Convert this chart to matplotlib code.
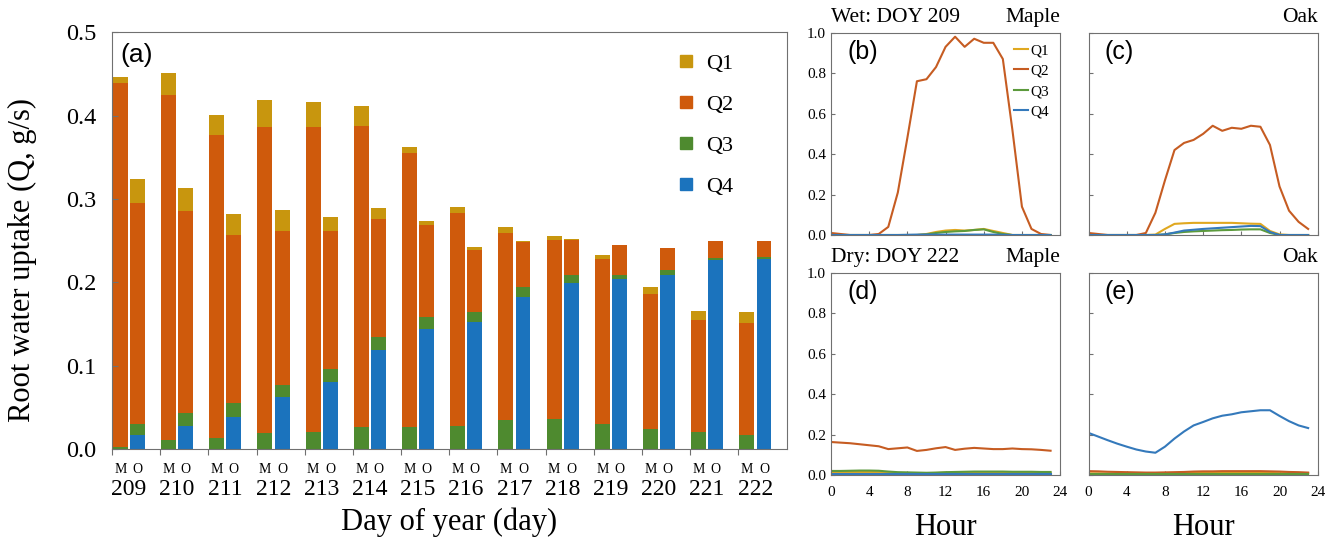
import numpy as np
import matplotlib.pyplot as plt
from matplotlib.lines import Line2D

plt.rcParams['font.family'] = ['Liberation Serif', 'DejaVu Serif']

days = ['209', '210', '211', '212', '213', '214', '215',
        '216', '217', '218', '219', '220', '221', '222']

# stacked components per day, M = maple, O = oak
m_q1 = [0.007, 0.026, 0.024, 0.033, 0.030, 0.024, 0.008,
        0.007, 0.008, 0.005, 0.005, 0.009, 0.011, 0.014]
m_q2 = [0.436, 0.414, 0.364, 0.367, 0.366, 0.362, 0.329,
        0.255, 0.224, 0.215, 0.198, 0.162, 0.134, 0.134]
m_q3 = [0.003, 0.011, 0.013, 0.019, 0.020, 0.026, 0.026,
        0.028, 0.035, 0.036, 0.030, 0.024, 0.021, 0.017]
m_q4 = [0.000, 0.000, 0.000, 0.000, 0.000, 0.000, 0.000,
        0.000, 0.000, 0.000, 0.000, 0.000, 0.000, 0.000]

o_q1 = [0.029, 0.027, 0.025, 0.025, 0.017, 0.013, 0.005,
        0.003, 0.002, 0.001, 0.000, 0.000, 0.000, 0.000]
o_q2 = [0.265, 0.243, 0.202, 0.185, 0.166, 0.142, 0.111,
        0.075, 0.054, 0.042, 0.036, 0.026, 0.021, 0.020]
o_q3 = [0.013, 0.015, 0.016, 0.015, 0.016, 0.015, 0.014,
        0.011, 0.011, 0.010, 0.005, 0.006, 0.002, 0.002]
o_q4 = [0.017, 0.028, 0.039, 0.062, 0.080, 0.119, 0.144,
        0.153, 0.183, 0.199, 0.204, 0.209, 0.227, 0.228]

hours = list(range(24))

wet_maple_q1 = [0, 0, 0, 0, 0, 0, 0, 0, 0, 0, 0.005, 0.015, 0.022, 0.025,
                0.022, 0.025, 0.030, 0.020, 0.010, 0, 0, 0, 0, 0]
wet_maple_q2 = [0.010, 0.005, 0, 0, 0, 0.005, 0.04, 0.21, 0.48, 0.76, 0.77, 0.83,
                0.93, 0.98, 0.93, 0.97, 0.95, 0.95, 0.87, 0.52, 0.14, 0.03, 0.005, 0]
wet_maple_q3 = [0, 0, 0, 0, 0, 0, 0, 0, 0, 0, 0.003, 0.010, 0.015, 0.018,
                0.020, 0.025, 0.028, 0.015, 0.005, 0, 0, 0, 0, 0]
wet_maple_q4 = [0, 0, 0, 0, 0, 0, 0, 0, 0.001, 0.002, 0.002, 0.002, 0.002, 0.002,
                0.002, 0.002, 0.002, 0.002, 0.001, 0, 0, 0, 0, 0]

wet_oak_q1 = [0, 0, 0, 0, 0, 0, 0, 0.002, 0.03, 0.055, 0.058, 0.06, 0.06, 0.06,
              0.06, 0.06, 0.058, 0.056, 0.055, 0.02, 0.003, 0, 0, 0]
wet_oak_q2 = [0.010, 0.005, 0, 0, 0, 0, 0.010, 0.11, 0.27, 0.42, 0.455, 0.47,
              0.50, 0.54, 0.515, 0.53, 0.525, 0.54, 0.535, 0.445, 0.24, 0.12, 0.065, 0.03]
wet_oak_q3 = [0, 0, 0, 0, 0, 0, 0, 0, 0.003, 0.010, 0.015, 0.018, 0.020, 0.022,
              0.024, 0.025, 0.027, 0.028, 0.028, 0.010, 0, 0, 0, 0]
wet_oak_q4 = [0, 0, 0, 0, 0, 0, 0, 0, 0.003, 0.012, 0.022, 0.026, 0.030, 0.033,
              0.036, 0.039, 0.042, 0.045, 0.044, 0.015, 0, 0, 0, 0]

dry_maple_q1 = [0.014, 0.014, 0.015, 0.015, 0.015, 0.014, 0.012, 0.010, 0.010, 0.009,
                0.009, 0.010, 0.011, 0.011, 0.012, 0.013, 0.013, 0.013, 0.013, 0.012,
                0.012, 0.012, 0.011, 0.011]
dry_maple_q2 = [0.163, 0.160, 0.157, 0.152, 0.147, 0.142, 0.128, 0.132, 0.136, 0.119,
                0.124, 0.132, 0.138, 0.124, 0.130, 0.134, 0.131, 0.128, 0.128, 0.131,
                0.128, 0.127, 0.124, 0.120]
dry_maple_q3 = [0.020, 0.020, 0.021, 0.022, 0.022, 0.021, 0.017, 0.014, 0.013, 0.012,
                0.011, 0.012, 0.014, 0.015, 0.016, 0.017, 0.017, 0.017, 0.017, 0.016,
                0.016, 0.016, 0.015, 0.015]
dry_maple_q4 = [0.004, 0.004, 0.004, 0.004, 0.004, 0.004, 0.004, 0.004, 0.004, 0.004,
                0.004, 0.004, 0.004, 0.004, 0.004, 0.004, 0.004, 0.004, 0.004, 0.004,
                0.004, 0.004, 0.004, 0.004]

dry_oak_q1 = [0.008, 0.008, 0.007, 0.007, 0.007, 0.006, 0.006, 0.006, 0.007, 0.008,
              0.009, 0.010, 0.010, 0.010, 0.010, 0.010, 0.010, 0.010, 0.010, 0.010,
              0.009, 0.009, 0.008, 0.008]
dry_oak_q2 = [0.019, 0.018, 0.016, 0.015, 0.014, 0.013, 0.012, 0.012, 0.013, 0.014,
              0.015, 0.017, 0.018, 0.018, 0.019, 0.019, 0.019, 0.019, 0.019, 0.018,
              0.017, 0.015, 0.014, 0.012]
dry_oak_q3 = [0.003, 0.003, 0.003, 0.003, 0.003, 0.003, 0.003, 0.003, 0.003, 0.003,
              0.003, 0.003, 0.003, 0.003, 0.003, 0.003, 0.003, 0.003, 0.003, 0.003,
              0.003, 0.003, 0.003, 0.003]
dry_oak_q4 = [0.208, 0.19, 0.172, 0.155, 0.14, 0.126, 0.116, 0.11, 0.14, 0.18,
              0.215, 0.245, 0.262, 0.28, 0.293, 0.30, 0.31, 0.315, 0.32, 0.32,
              0.292, 0.266, 0.245, 0.232]

bar_colors = {'Q1': '#c8960e', 'Q2': '#cf5a0c', 'Q3': '#4e8a2f', 'Q4': '#1b73bd'}
line_colors = {'Q1': '#e0a820', 'Q2': '#c65c22', 'Q3': '#5c9a3c', 'Q4': '#3479bb'}
spine_col = '#707070'

fig = plt.figure(figsize=(13.36, 5.41), dpi=100)

# ---- panel (a)
ax = fig.add_axes([0.0838, 0.170, 0.505, 0.770])
x = np.arange(len(days))
w = 0.31
xm = x + 0.175
xo = x + 0.53
for xs, q1, q2, q3, q4 in [(xm, m_q1, m_q2, m_q3, m_q4), (xo, o_q1, o_q2, o_q3, o_q4)]:
    q1, q2, q3, q4 = map(np.array, (q1, q2, q3, q4))
    ax.bar(xs, q4, w, color=bar_colors['Q4'])
    ax.bar(xs, q3, w, bottom=q4, color=bar_colors['Q3'])
    ax.bar(xs, q2, w, bottom=q4 + q3, color=bar_colors['Q2'])
    ax.bar(xs, q1, w, bottom=q4 + q3 + q2, color=bar_colors['Q1'])

ax.set_xlim(0, len(days))
ax.set_ylim(0, 0.5)
ax.set_xticks(x)
ax.set_xticklabels([])
ax.tick_params(axis='x', direction='out', length=4, color=spine_col)
ax.set_yticks(np.arange(0, 0.51, 0.1))
ax.set_yticklabels(['%.1f' % v for v in np.arange(0, 0.51, 0.1)], fontsize=17.5)
ax.tick_params(axis='y', direction='in', length=4, color=spine_col, pad=11)
for s in ax.spines.values():
    s.set_color(spine_col)
trans = ax.get_xaxis_transform()
for i, d in enumerate(days):
    ax.text(xm[i], -0.048, 'M', transform=trans, ha='center', va='center', fontsize=10)
    ax.text(xo[i], -0.048, 'O', transform=trans, ha='center', va='center', fontsize=10)
    ax.text(x[i] + 0.35, -0.098, d, transform=trans, ha='center', va='center', fontsize=17)
ax.text(0.5, -0.175, 'Day of year (day)', transform=ax.transAxes, ha='center',
        va='center', fontsize=22)
fig.text(0.0165, 0.52, 'Root water uptake (Q, g/s)', rotation=90, ha='center',
         va='center', fontsize=22)
ax.text(0.012, 0.975, '(a)', transform=ax.transAxes, ha='left', va='top',
        fontsize=19, family='Liberation Sans')
handles = [Line2D([], [], marker='s', linestyle='none', markersize=9,
                  color=bar_colors[k], label=k) for k in ['Q1', 'Q2', 'Q3', 'Q4']]
ax.legend(handles=handles, loc='upper right', bbox_to_anchor=(0.95, 0.997),
          frameon=False, fontsize=16, labelspacing=0.92, handletextpad=0.4,
          handlelength=1.0)

# ---- panels (b)-(e)
panels = [
    ([0.622, 0.5656, 0.1715, 0.374], '(b)', (wet_maple_q1, wet_maple_q2, wet_maple_q3, wet_maple_q4),
     'Wet: DOY 209', 'Maple', True, False),
    ([0.8148, 0.5656, 0.1715, 0.374], '(c)', (wet_oak_q1, wet_oak_q2, wet_oak_q3, wet_oak_q4),
     '', 'Oak', False, False),
    ([0.622, 0.122, 0.1715, 0.374], '(d)', (dry_maple_q1, dry_maple_q2, dry_maple_q3, dry_maple_q4),
     'Dry: DOY 222', 'Maple', True, True),
    ([0.8148, 0.122, 0.1715, 0.374], '(e)', (dry_oak_q1, dry_oak_q2, dry_oak_q3, dry_oak_q4),
     '', 'Oak', False, True),
]

for rect, tag, series, ltitle, rtitle, show_y, show_x in panels:
    a = fig.add_axes(rect)
    for name, vals in zip(['Q1', 'Q2', 'Q3', 'Q4'], series):
        a.plot(hours, vals, color=line_colors[name], lw=1.5, label=name)
    a.set_xlim(0, 24)
    a.set_ylim(0, 1.0)
    a.set_xticks(range(0, 25, 4))
    a.set_yticks(np.arange(0, 1.01, 0.2))
    a.tick_params(direction='in', length=3, color=spine_col, labelsize=11)
    a.tick_params(axis='x', pad=8)
    if show_y:
        a.set_yticklabels(['%.1f' % v for v in np.arange(0, 1.01, 0.2)])
    else:
        a.set_yticklabels([])
    if show_x:
        a.set_xlabel('Hour', fontsize=22, labelpad=10)
    else:
        a.set_xticklabels([])
    for s in a.spines.values():
        s.set_color(spine_col)
    if ltitle:
        a.set_title(ltitle, loc='left', fontsize=15.5, pad=8)
    a.set_title(rtitle, loc='right', fontsize=15.5, pad=8)
    a.text(0.07, 0.965, tag, transform=a.transAxes, ha='left', va='top',
           fontsize=18, family='Liberation Sans')
    if tag == '(b)':
        a.legend(loc='upper right', frameon=False, fontsize=11, handlelength=0.9,
                 handletextpad=0.2, labelspacing=0.45, borderaxespad=0.3)

fig.savefig('out.png', dpi=100)
